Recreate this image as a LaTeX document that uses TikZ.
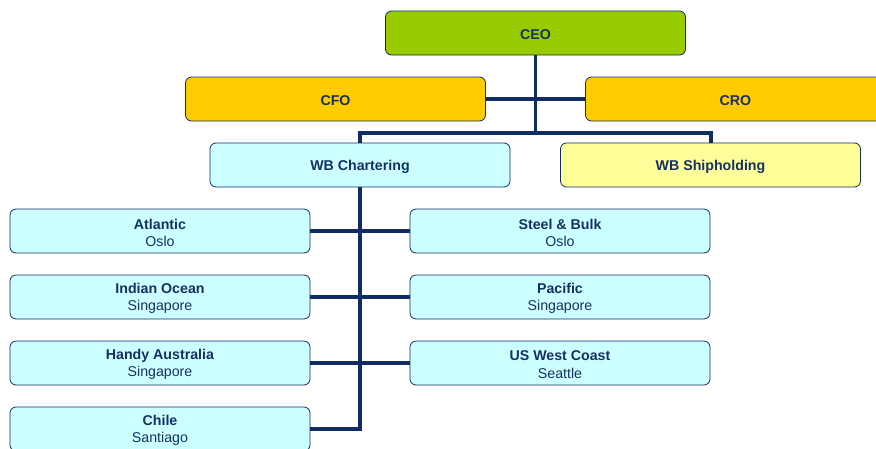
\documentclass[tikz,border=0pt]{standalone}
\usepackage{fontspec}
\setmainfont{Liberation Sans}
\definecolor{navy}{RGB}{16,44,100}
\definecolor{txt}{RGB}{22,48,100}
\definecolor{ceogreen}{RGB}{153,204,0}
\definecolor{cgold}{RGB}{255,204,0}
\definecolor{lcyan}{RGB}{204,255,255}
\definecolor{lyellow}{RGB}{255,255,153}
\begin{document}
\begin{tikzpicture}[x=1pt,y=-1pt,
  box/.style={draw=navy,line width=0.8pt,rounded corners=6pt,minimum width=300pt,minimum height=44pt,inner sep=0pt},
  lbl/.style={align=center,text=txt,inner sep=0pt,yshift=-1.6pt,font=\fontsize{14.2}{17.2}\selectfont},
  t/.style={label={[lbl]center:#1}},
  conn/.style={draw=navy,line width=3.2pt}]
\useasboundingbox (0,0) rectangle (876,448);
\clip (0,0) rectangle (876,448);
\fill[white] (0,0) rectangle (876,448);
\coordinate (j1) at (535.5,133);
\coordinate (jl) at (360,133);
\coordinate (jr) at (711,133);
\coordinate (t4) at (360,429);
\node[box,fill=ceogreen,t={\textbf{CEO}}] (ceo) at (535.5,33) {};
\node[box,fill=cgold,t={\textbf{CFO}}] (cfo) at (335.5,99) {};
\node[box,fill=cgold,t={\textbf{CRO}}] (cro) at (735.5,99) {};
\node[box,fill=lcyan,t={\textbf{WB Chartering}}] (wbc) at (360,165) {};
\node[box,fill=lyellow,t={\textbf{WB Shipholding}}] (wbs) at (710.5,165) {};
\node[box,fill=lcyan,t={\textbf{Atlantic}\\Oslo}] (atl) at (160,231) {};
\node[box,fill=lcyan,t={\textbf{Indian Ocean}\\Singapore}] (ind) at (160,297) {};
\node[box,fill=lcyan,t={\textbf{Handy Australia}\\Singapore}] (han) at (160,363) {};
\node[box,fill=lcyan,t={\textbf{Chile}\\Santiago}] (chi) at (160,429) {};
\node[box,fill=lcyan,t={\textbf{Steel \& Bulk}\\Oslo}] (ste) at (560,231) {};
\node[box,fill=lcyan,t={\textbf{Pacific}\\Singapore}] (pac) at (560,297) {};
\node[box,fill=lcyan,t={\textbf{US West Coast}\\Seattle}] (usw) at (560,363) {};
\draw[conn] (ceo.south) -- (j1);
\draw[conn] (cfo.east) -- (cro.west);
\draw[conn] (wbc.north) -- (jl) -- (jr) -- (wbs.north -| jr);
\draw[conn] (wbc.south) -- (t4) -- (chi.east);
\draw[conn] (atl.east) -- (ste.west);
\draw[conn] (ind.east) -- (pac.west);
\draw[conn] (han.east) -- (usw.west);
\end{tikzpicture}
\end{document}
